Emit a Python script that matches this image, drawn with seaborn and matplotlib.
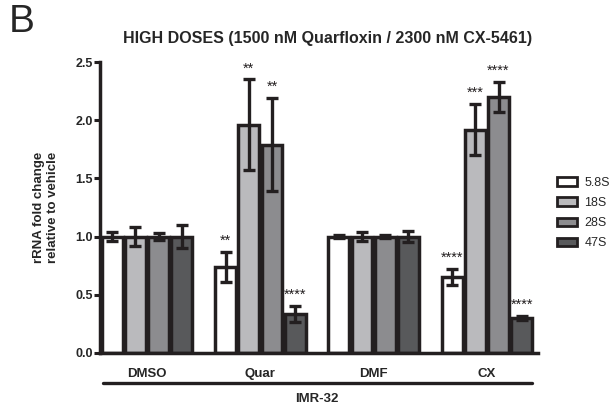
import numpy as np
import pandas as pd
import matplotlib
matplotlib.use("Agg")
import matplotlib.pyplot as plt
import seaborn as sns

groups = ["DMSO", "Quar", "DMF", "CX"]
rnas = ["5.8S", "18S", "28S", "47S"]
vals_58 = [1.00, 0.74, 1.00, 0.65]
vals_18 = [1.00, 1.96, 1.00, 1.92]
vals_28 = [1.00, 1.79, 1.00, 2.20]
vals_47 = [1.00, 0.335, 1.00, 0.30]
err_58 = [0.04, 0.13, 0.01, 0.07]
err_18 = [0.08, 0.39, 0.04, 0.22]
err_28 = [0.03, 0.40, 0.01, 0.13]
err_47 = [0.10, 0.07, 0.05, 0.02]
stars_58 = ["", "**", "", "****"]
stars_18 = ["", "**", "", "***"]
stars_28 = ["", "**", "", "****"]
stars_47 = ["", "****", "", "****"]
colors = ["#ffffff", "#b9babe", "#8b8c8f", "#58595b"]

vals = [vals_58, vals_18, vals_28, vals_47]
errs = [err_58, err_18, err_28, err_47]
stars = [stars_58, stars_18, stars_28, stars_47]

rows = []
for r, v in zip(rnas, vals):
    for g, x in zip(groups, v):
        rows.append({"group": g, "rna": r, "value": x})
df = pd.DataFrame(rows)

sns.set_style("ticks")
plt.rcParams["font.family"] = ["Liberation Sans", "DejaVu Sans"]
edge = "#231f20"

fig = plt.figure(figsize=(6.14, 4.08), dpi=100)
ax = fig.add_axes([0.163, 0.135, 0.713, 0.713])
sns.barplot(data=df, x="group", y="value", hue="rna", order=groups, hue_order=rnas,
            palette=colors, errorbar=None, width=0.82, gap=0.1,
            edgecolor=edge, linewidth=2.5, ax=ax)

# error bars and stars from bar positions
for ci, r in enumerate(rnas):
    cont = ax.containers[ci]
    for gi, bar in enumerate(cont):
        xc = bar.get_x() + bar.get_width() / 2
        h = bar.get_height()
        e = errs[ci][gi]
        ax.errorbar(xc, h, yerr=e, fmt="none", ecolor=edge, elinewidth=2.4,
                    capsize=4.5, capthick=2.4, zorder=5)
        s = stars[ci][gi]
        if s:
            ax.text(xc, h + e + 0.035, s, ha="center", va="bottom", fontsize=10.5,
                    color=edge)

ax.set_ylim(0, 2.5)
ax.set_xlim(-0.415, 3.45)
ax.set_yticks([0, 0.5, 1.0, 1.5, 2.0, 2.5])
ax.set_yticklabels(["0.0", "0.5", "1.0", "1.5", "2.0", "2.5"], fontsize=9, fontweight="bold")
ax.tick_params(axis="y", length=4, width=2.2, color=edge, pad=1)
ax.tick_params(axis="x", length=0, pad=11)
for lab in ax.get_xticklabels():
    lab.set_fontweight("bold")
    lab.set_fontsize(9.5)
ax.set_xlabel("")
ax.set_ylabel("rRNA fold change\nrelative to vehicle", fontsize=9.5, fontweight="bold",
              labelpad=12)
for sp in ["top", "right"]:
    ax.spines[sp].set_visible(False)
for sp in ["left", "bottom"]:
    ax.spines[sp].set_linewidth(2.5)
    ax.spines[sp].set_color(edge)

# group line and IMR-32 label
ax.plot([-0.39, 3.4], [-0.26, -0.26], color=edge, lw=2.4, clip_on=False,
        transform=ax.transData)
ax.text(1.5, -0.345, "IMR-32", ha="center", va="top", fontsize=9.5, fontweight="bold")

leg = ax.legend(loc="center left", bbox_to_anchor=(1.043, 0.48), frameon=False,
                fontsize=9, handlelength=1.6, handleheight=0.7, labelspacing=0.65,
                handletextpad=0.6, borderpad=0, borderaxespad=0)
for hnd in leg.legend_handles:
    hnd.set_linewidth(2.0)
    hnd.set_edgecolor(edge)

fig.text(0.533, 0.905, "HIGH DOSES (1500 nM Quarfloxin / 2300 nM CX-5461)",
         ha="center", va="center", fontsize=11.5, fontweight="bold")
fig.text(0.015, 0.945, "B", ha="left", va="center", fontsize=28)

fig.savefig("out.png", dpi=100)
